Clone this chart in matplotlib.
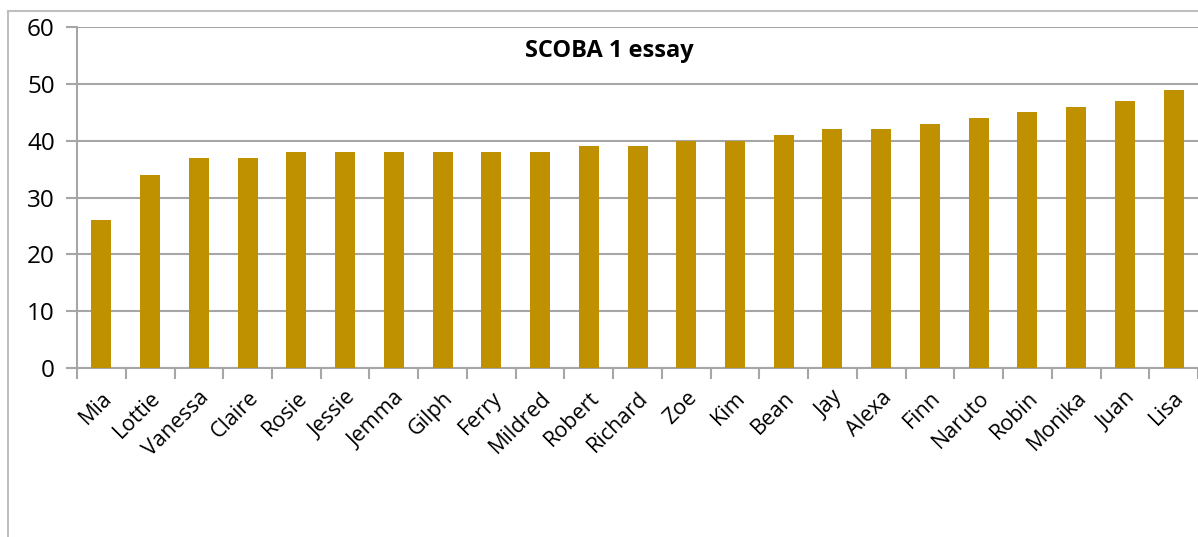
import matplotlib
matplotlib.use("Agg")
import matplotlib.pyplot as plt
from matplotlib.lines import Line2D
import numpy as np

names = ["Mia", "Lottie", "Vanessa", "Claire", "Rosie", "Jessie", "Jemma",
         "Gilph", "Ferry", "Mildred", "Robert", "Richard", "Zoe", "Kim",
         "Bean", "Jay", "Alexa", "Finn", "Naruto", "Robin", "Monika",
         "Juan", "Lisa"]
scores = [26, 34, 37, 37, 38, 38, 38, 38, 38, 38, 39, 39, 40, 40, 41, 42,
          42, 43, 44, 45, 46, 47, 49]
yticks = [0, 10, 20, 30, 40, 50, 60]

bar_color = "#BF9000"
grid_color = "#A6A6A6"

plt.rcParams['font.family'] = ['Open Sans', 'DejaVu Sans']

fig = plt.figure(figsize=(11.98, 5.37), dpi=100, facecolor="white")
ax = fig.add_axes([0.0643, 0.3147, 0.9357, 0.635])

x = np.arange(len(names))
ax.bar(x, scores, width=0.41, color=bar_color, zorder=3)

ax.set_xlim(-0.5, len(names) - 0.5)
ax.set_ylim(0, 60)
ax.set_yticks(yticks)
ax.yaxis.grid(True, color=grid_color, linewidth=1.5, zorder=0)

# category ticks sit between bars, labels centred under bars
ax.set_xticks(np.arange(len(names) + 1) - 0.5)
ax.set_xticklabels([])
ax.set_xticks(x, minor=True)
ax.set_xticklabels(names, minor=True, rotation=45, ha="right",
                   rotation_mode="anchor", fontsize=15.5)
ax.tick_params(axis="x", which="major", length=8, width=1.5, color=grid_color,
               direction="out")
ax.tick_params(axis="x", which="minor", length=0, pad=14)
ax.tick_params(axis="y", length=8, width=1.5, color=grid_color, labelsize=17.5,
               pad=8)

for side in ("top", "right"):
    ax.spines[side].set_visible(False)
for side in ("left", "bottom"):
    ax.spines[side].set_color(grid_color)
    ax.spines[side].set_linewidth(1.5)

ax.text(0.4746, 0.93, "SCOBA 1 essay", transform=ax.transAxes, ha="center",
        va="center", fontsize=17, fontweight="bold")

# chart area border
fig.add_artist(Line2D([8 / 1198, 8 / 1198], [0, 1 - 11 / 537],
                      transform=fig.transFigure, color="#BFBFBF", lw=1.5))
fig.add_artist(Line2D([8 / 1198, 1], [1 - 11 / 537, 1 - 11 / 537],
                      transform=fig.transFigure, color="#BFBFBF", lw=1.5))

fig.savefig("out.png", dpi=100, facecolor="white")
